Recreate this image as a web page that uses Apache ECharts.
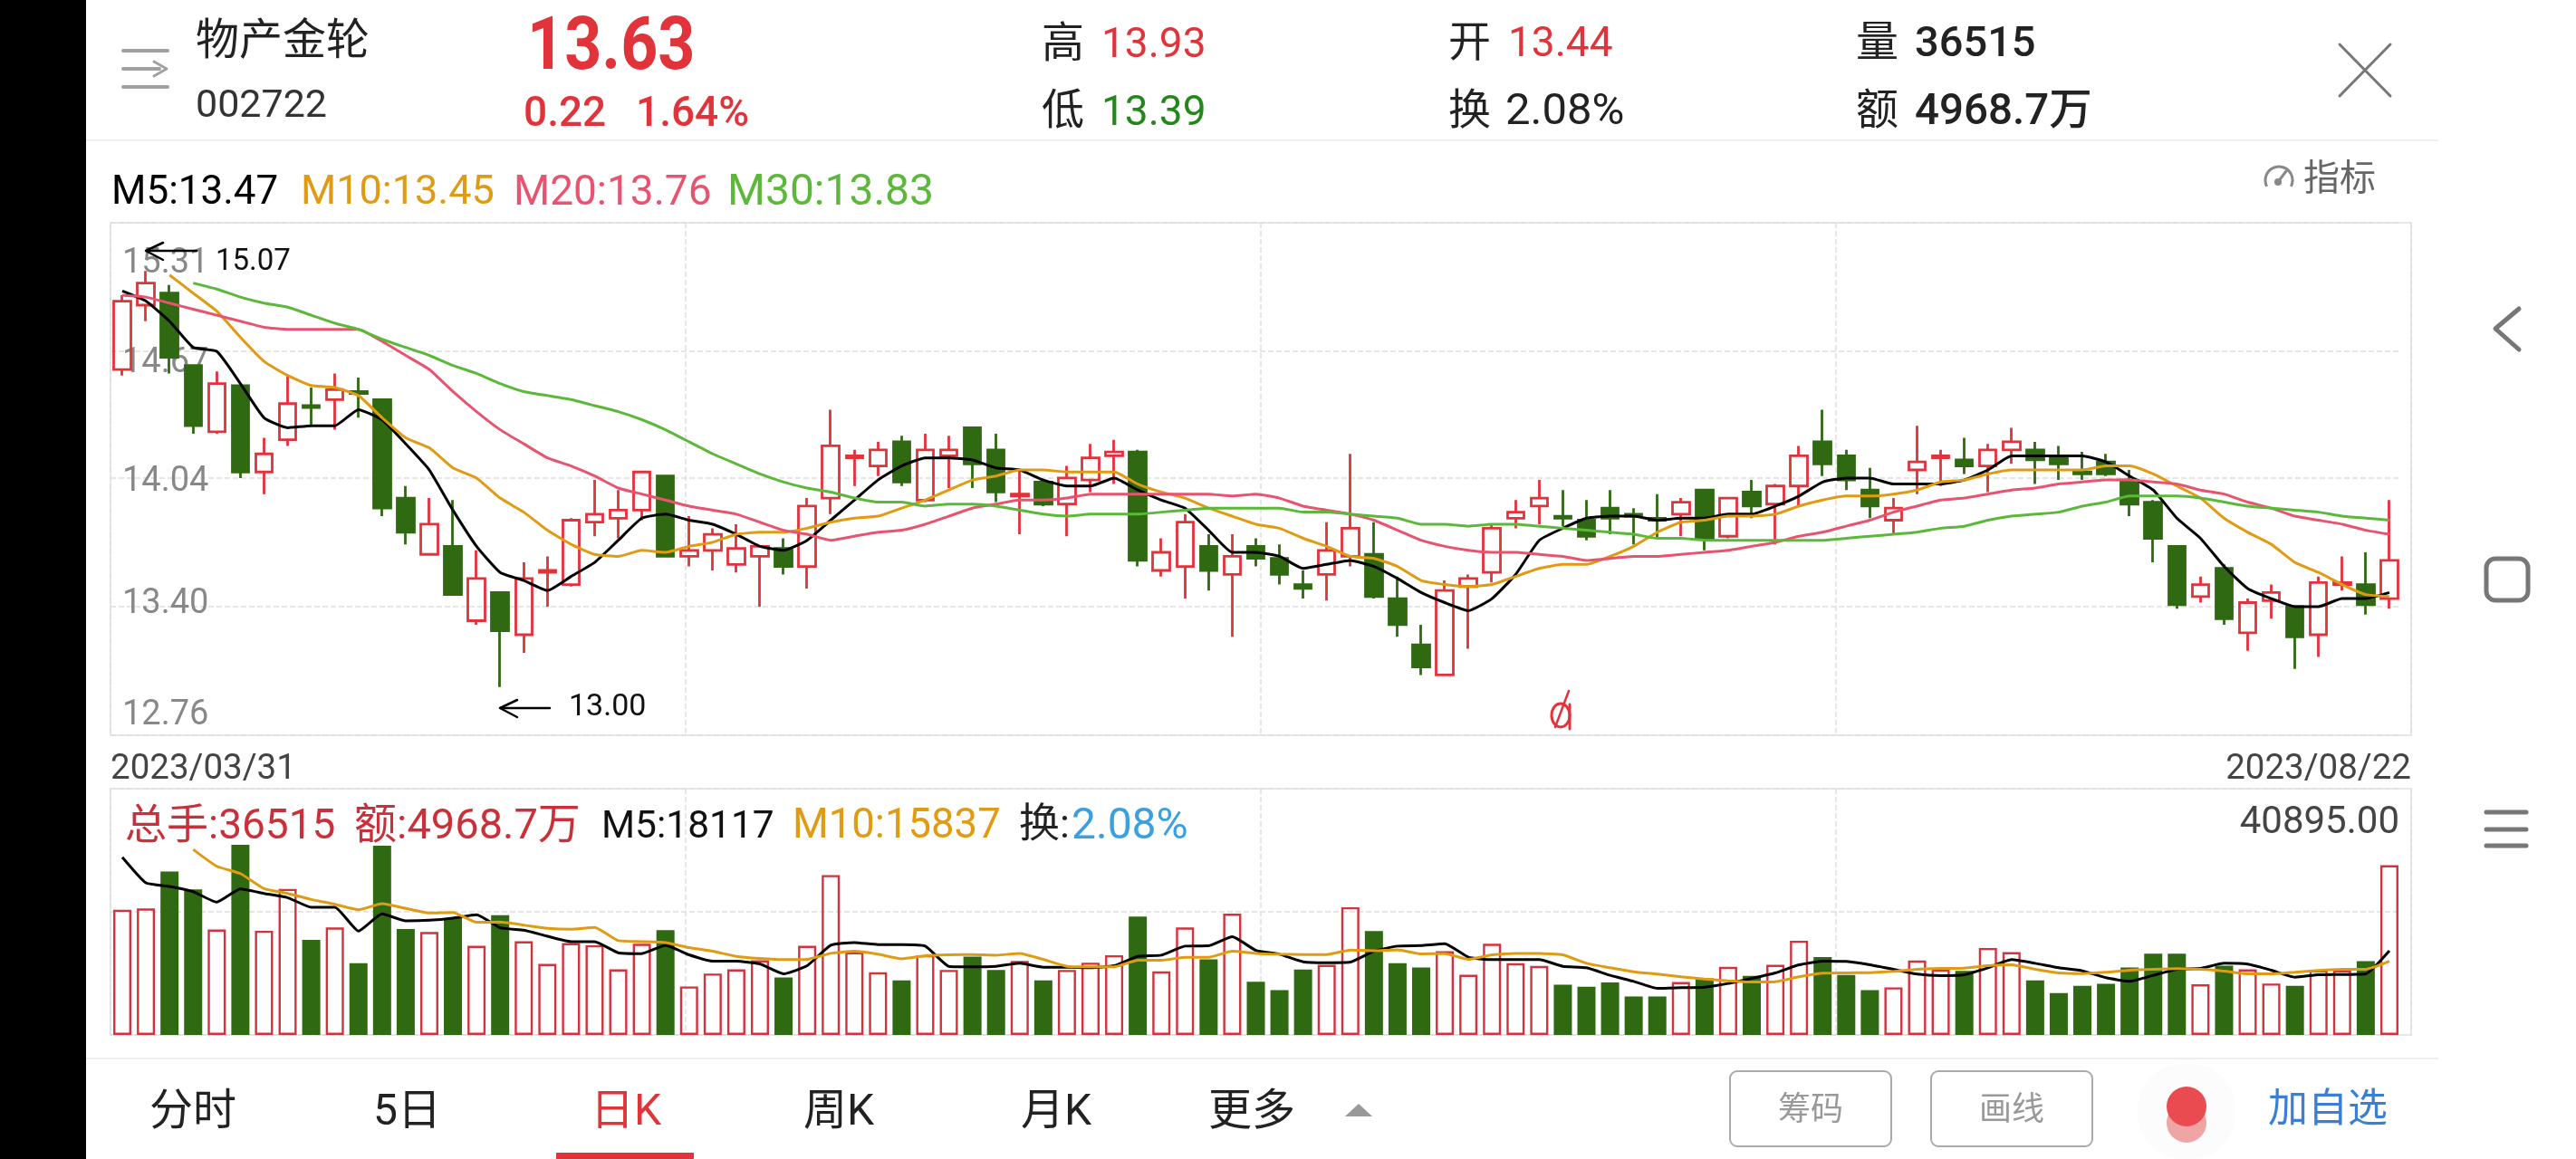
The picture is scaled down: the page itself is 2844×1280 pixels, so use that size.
<!DOCTYPE html>
<html><head><meta charset="utf-8">
<style>html,body{margin:0;padding:0;background:#fff}#c{width:2844px;height:1280px}</style>
<script src="https://cdn.jsdelivr.net/npm/echarts@6/dist/echarts.min.js"></script>
</head><body><div id="c"></div>
<script>
const dates=["2023/03/31","2023/04/03","2023/04/04","2023/04/06","2023/04/07","2023/04/10","2023/04/11","2023/04/12","2023/04/13","2023/04/14","2023/04/17","2023/04/18","2023/04/19","2023/04/20","2023/04/21","2023/04/24","2023/04/25","2023/04/26","2023/04/27","2023/04/28","2023/05/04","2023/05/05","2023/05/08","2023/05/09","2023/05/10","2023/05/11","2023/05/12","2023/05/15","2023/05/16","2023/05/17","2023/05/18","2023/05/19","2023/05/22","2023/05/23","2023/05/24","2023/05/25","2023/05/26","2023/05/29","2023/05/30","2023/05/31","2023/06/01","2023/06/02","2023/06/05","2023/06/06","2023/06/07","2023/06/08","2023/06/09","2023/06/12","2023/06/13","2023/06/14","2023/06/15","2023/06/16","2023/06/19","2023/06/20","2023/06/21","2023/06/26","2023/06/27","2023/06/28","2023/06/29","2023/06/30","2023/07/03","2023/07/04","2023/07/05","2023/07/06","2023/07/07","2023/07/10","2023/07/11","2023/07/12","2023/07/13","2023/07/14","2023/07/17","2023/07/18","2023/07/19","2023/07/20","2023/07/21","2023/07/24","2023/07/25","2023/07/26","2023/07/27","2023/07/28","2023/07/31","2023/08/01","2023/08/02","2023/08/03","2023/08/04","2023/08/07","2023/08/08","2023/08/09","2023/08/10","2023/08/11","2023/08/14","2023/08/15","2023/08/16","2023/08/17","2023/08/18","2023/08/21","2023/08/22"];
const opens=[14.58,14.90,14.96,14.60,14.27,14.50,14.07,14.23,14.40,14.43,14.47,14.43,13.94,13.66,13.70,13.33,13.47,13.26,13.57,13.51,13.82,13.84,13.88,14.05,13.65,13.68,13.61,13.65,13.69,13.60,13.94,14.14,14.10,14.22,13.93,14.15,14.29,14.18,13.95,14.02,13.91,14.03,14.15,14.17,13.58,13.60,13.70,13.56,13.70,13.64,13.51,13.56,13.65,13.66,13.44,13.21,13.06,13.50,13.57,13.84,13.90,13.85,13.83,13.89,13.86,13.84,13.86,13.98,13.75,13.97,13.91,14.00,14.22,14.15,13.98,13.83,14.08,14.14,14.13,14.10,14.18,14.18,14.14,14.07,14.12,14.03,13.92,13.70,13.45,13.59,13.27,13.43,13.40,13.26,13.51,13.51,13.44];
const closes=[14.92,15.01,14.64,14.30,14.51,14.07,14.16,14.41,14.39,14.48,14.46,13.89,13.77,13.81,13.46,13.54,13.28,13.54,13.58,13.83,13.86,13.88,14.07,13.65,13.68,13.76,13.69,13.70,13.60,13.90,14.20,14.15,14.18,14.02,14.18,14.18,14.11,13.97,13.96,13.91,14.04,14.14,14.17,13.63,13.67,13.82,13.58,13.65,13.64,13.56,13.49,13.68,13.79,13.45,13.31,13.10,13.48,13.54,13.79,13.87,13.94,13.84,13.75,13.84,13.85,13.83,13.92,13.74,13.94,13.90,14.00,14.15,14.11,14.03,13.90,13.89,14.12,14.15,14.10,14.18,14.22,14.13,14.11,14.06,14.06,13.91,13.74,13.41,13.51,13.34,13.42,13.47,13.25,13.52,13.52,13.41,13.63];
const lows=[14.55,14.82,14.56,14.26,14.26,14.04,13.96,14.20,14.30,14.28,14.34,13.85,13.71,13.66,13.46,13.31,13.00,13.17,13.40,13.50,13.75,13.74,13.83,13.65,13.60,13.58,13.57,13.40,13.56,13.49,13.86,14.00,14.05,14.00,13.92,13.99,13.99,13.92,13.76,13.90,13.75,13.97,14.01,13.60,13.55,13.44,13.48,13.25,13.60,13.51,13.44,13.43,13.60,13.44,13.25,13.06,13.06,13.19,13.52,13.79,13.81,13.80,13.73,13.76,13.71,13.74,13.75,13.68,13.74,13.84,13.71,13.90,14.05,13.98,13.84,13.76,13.96,14.00,14.06,13.97,14.11,14.01,14.03,14.03,14.05,13.85,13.62,13.39,13.42,13.31,13.18,13.34,13.09,13.15,13.48,13.36,13.39];
const highs=[14.95,15.07,15.00,14.60,14.57,14.50,14.24,14.55,14.49,14.56,14.54,14.43,14.00,13.94,13.93,13.68,13.47,13.62,13.65,13.84,14.03,13.98,14.07,14.05,13.85,13.79,13.81,13.70,13.74,13.94,14.38,14.18,14.22,14.25,14.26,14.25,14.29,14.26,14.08,14.02,14.10,14.21,14.23,14.18,13.74,13.86,13.76,13.76,13.74,13.71,13.58,13.82,14.16,13.82,13.55,13.31,13.53,13.56,13.81,13.93,14.03,13.98,13.93,13.98,13.89,13.96,13.94,13.98,13.94,14.03,14.01,14.20,14.38,14.18,14.09,13.94,14.30,14.18,14.24,14.21,14.29,14.22,14.20,14.17,14.16,14.08,13.93,13.70,13.55,13.61,13.44,13.51,13.40,13.55,13.65,13.67,13.93];
const ma5=[14.97,14.92,14.82,14.69,14.67,14.51,14.34,14.29,14.30,14.30,14.38,14.33,14.21,14.08,13.88,13.70,13.57,13.53,13.48,13.55,13.62,13.73,13.84,13.86,13.83,13.81,13.76,13.70,13.68,13.73,13.83,13.93,14.03,14.10,14.14,14.14,14.13,14.09,14.08,14.03,14.00,14.00,14.04,13.98,13.93,13.89,13.78,13.67,13.67,13.65,13.59,13.61,13.63,13.60,13.54,13.47,13.42,13.38,13.44,13.56,13.73,13.79,13.84,13.85,13.85,13.83,13.84,13.84,13.86,13.86,13.90,13.95,14.02,14.04,14.04,14.01,14.01,14.01,14.03,14.08,14.15,14.15,14.15,14.15,14.12,14.05,13.98,13.84,13.74,13.60,13.49,13.44,13.40,13.40,13.44,13.44,13.47];
const ma10=[null,null,15.05,14.96,14.87,14.74,14.62,14.55,14.50,14.49,14.45,14.34,14.24,14.19,14.09,14.04,13.94,13.87,13.78,13.71,13.66,13.65,13.68,13.67,13.70,13.72,13.76,13.77,13.77,13.79,13.82,13.84,13.85,13.89,13.93,13.98,14.03,14.05,14.08,14.08,14.07,14.07,14.07,14.01,13.97,13.94,13.89,13.85,13.81,13.79,13.74,13.70,13.65,13.64,13.60,13.53,13.51,13.50,13.51,13.55,13.59,13.61,13.61,13.65,13.70,13.77,13.82,13.83,13.85,13.85,13.86,13.90,13.93,13.95,13.95,13.96,13.98,14.02,14.03,14.06,14.08,14.08,14.08,14.08,14.10,14.10,14.06,14.00,13.94,13.84,13.77,13.71,13.62,13.57,13.51,13.46,13.45];
const ma20=[14.95,14.94,14.91,14.88,14.85,14.82,14.79,14.78,14.78,14.78,14.78,14.72,14.65,14.58,14.47,14.37,14.28,14.21,14.14,14.10,14.05,13.99,13.96,13.93,13.90,13.88,13.86,13.82,13.78,13.76,13.73,13.75,13.77,13.78,13.81,13.85,13.89,13.91,13.93,13.93,13.94,13.96,13.96,13.96,13.96,13.96,13.96,13.95,13.96,13.94,13.90,13.88,13.86,13.83,13.78,13.73,13.70,13.68,13.67,13.67,13.66,13.65,13.63,13.64,13.65,13.65,13.66,13.67,13.68,13.70,13.72,13.75,13.77,13.80,13.83,13.87,13.90,13.93,13.94,13.96,13.98,13.99,14.01,14.02,14.03,14.03,14.02,14.01,13.98,13.96,13.92,13.89,13.85,13.83,13.81,13.78,13.76];
const ma30=[null,null,null,15.01,14.98,14.94,14.91,14.89,14.85,14.81,14.78,14.73,14.69,14.65,14.60,14.56,14.51,14.47,14.45,14.43,14.40,14.37,14.33,14.28,14.22,14.16,14.11,14.06,14.02,13.99,13.97,13.94,13.92,13.92,13.90,13.91,13.91,13.90,13.88,13.86,13.85,13.86,13.86,13.86,13.87,13.88,13.89,13.89,13.89,13.89,13.87,13.87,13.86,13.85,13.84,13.81,13.81,13.80,13.81,13.81,13.80,13.79,13.78,13.77,13.76,13.74,13.74,13.73,13.73,13.73,13.73,13.73,13.73,13.74,13.75,13.76,13.77,13.79,13.80,13.83,13.85,13.86,13.87,13.90,13.92,13.95,13.95,13.95,13.94,13.92,13.90,13.89,13.88,13.87,13.85,13.84,13.83];
const volumes=[26960,27220,35190,31300,22680,40895,22420,31430,20480,23130,15420,40700,22810,22160,25140,19180,25790,20150,15290,19760,19310,14130,19630,22550,10430,13220,14130,16070,12380,19180,34410,17820,13480,11730,17170,14000,16850,14000,15940,11730,14000,15550,17170,25470,13670,23130,16260,26110,11470,9660,14060,15100,27480,22360,15420,14520,18010,12960,19630,15420,14840,10820,10370,11280,8290,8290,11400,12180,14640,12700,15100,20280,16780,12900,9660,10240,16010,14130,13800,18730,17820,11730,9010,10560,11020,14520,17500,17500,10890,14900,14130,11080,10560,13930,13930,15880,36515];
const volM5=[38230,32720,31950,30840,28580,31430,30460,29550,27480,27480,22360,26050,24560,24690,25140,25860,23070,22550,21250,20090,20090,17690,17500,19310,17240,15880,15880,15290,13150,14900,19310,19890,19440,19440,19120,14770,14640,14770,15420,14580,14580,14450,14900,16910,17170,19120,19180,21120,18210,17370,15750,15550,15680,18010,19120,19250,19630,16720,16200,16200,16200,14770,14450,12830,11530,10040,10170,10300,11080,12180,13350,15100,15880,15810,15100,14130,13090,12770,12960,14450,16200,15420,14450,13800,12310,11530,12830,14130,14320,15420,15230,13930,12440,12960,13020,13150,18117];
const volM10=[null,null,null,39920,36290,34730,31490,30460,29160,28120,26960,28250,27220,26240,26370,24240,24300,23650,22940,22740,23130,20280,20090,19890,18790,18010,16910,16460,16200,16260,17560,18010,17370,16390,17040,17240,17300,17170,17560,16260,14770,14640,14640,16070,16070,16720,16720,18010,17560,17370,17300,17300,18270,18140,18340,17430,17500,16260,17240,17560,17560,17240,15420,14450,13610,13090,12510,12050,11660,11400,11470,12510,13280,13350,13410,13670,14130,14320,14390,14900,15100,14130,13350,13220,13480,13930,14130,14260,14130,13740,13150,13150,13480,13870,14130,14130,15837];
const priceTicks=[12.76,13.40,14.04,14.67,15.31];
const priceTickNudge={"15.31":[90,0,0,0],"14.67":[26,0,0,0],"14.04":[10,0,0,0],"13.40":[0,0,4,0],"12.76":[0,0,44,0]};

const RED='#e0333a',GRN='#2f6912',BLK='#000',ORG='#e09b12',PNK='#e8546f',LGN='#5cb83a';
const CJK='Roboto,"Noto Sans CJK SC",sans-serif';
const DY=5;
function T(text,x,y,size,fill,o){o=o||{};return {type:'text',z:50,style:{text,x,y:y+DY,fill,fontSize:size,fontFamily:CJK,fontWeight:o.w||400,align:o.a||'left',verticalAlign:'middle'}};}
function L(pts,stroke,lw){return {type:'polyline',z:50,shape:{points:pts},style:{stroke,lineWidth:lw,fill:'none',lineCap:'round',lineJoin:'round'}};}
function Big(text,x,y,size,fill,sx){return {type:'text',z:50,x,y,scaleX:sx,style:{text,x:0,y:0,fill,fontSize:size,fontFamily:CJK,fontWeight:700,align:'left',verticalAlign:'middle'}};}
function Rect(x,y,w,h,fill,o){o=o||{};return {type:'rect',z:o.z||40,shape:{x,y,width:w,height:h,r:o.r||0},style:{fill:fill,stroke:o.stroke||null,lineWidth:o.lw||0}};}

const graphics=[
 Rect(0,0,95,1280,'#000'),
 Rect(95,154,2597,2,'#eeeeee'),Rect(95,1168,2597,2,'#eeeeee'),
 L([[136,56],[185,56]],'#a0a0a0',4),L([[136,76],[176,76]],'#a0a0a0',4),L([[170,68],[184,76],[170,84]],'#a0a0a0',3),L([[136,96],[185,96]],'#a0a0a0',4),
 T('物产金轮',216,43,48,'#222'),
 T('002722',216,113,43,'#333'),
 Big('13.63',582,55,82,RED,0.875),
 T('0.22',578,122,46,RED,{w:500}),T('1.64%',702,122,46,RED,{w:500}),
 T('高',1150,46,47,'#222'),T('13.93',1216,46,46,RED),
 T('低',1150,120,47,'#222'),T('13.39',1216,121,46,'#22881a'),
 T('开',1599,45,47,'#222'),T('13.44',1665,45,46,RED),
 T('换',1599,120,47,'#222'),T('2.08%',1662,120,49,'#222'),
 T('量',2049,45,47,'#222'),T('36515',2114,45,47,'#222',{w:500}),
 T('额',2049,120,47,'#222'),T('4968.7万',2114,120,47.5,'#222',{w:500}),
 L([[2583,49],[2639,106]],'#777',3),L([[2639,49],[2583,106]],'#777',3),
 T('M5:13.47',123,209,44,'#000'),T('M10:13.45',332,209,45,ORG),T('M20:13.76',567,209,46,PNK),T('M30:13.83',803,209,48,LGN),
 {type:'arc',z:50,shape:{cx:2516,cy:199,r:15,startAngle:Math.PI*0.85,endAngle:Math.PI*0.15},style:{stroke:'#888',lineWidth:3,fill:'none'}},
 {type:'circle',z:50,shape:{cx:2515,cy:201,r:4},style:{fill:'#888'}},L([[2515,201],[2524,189]],'#888',3),
 T('指标',2543,195,40,'#666'),
 L([[217,277],[162,277]],'#000',2.5),L([[180,268],[161,277],[180,287]],'#000',2.5),T('15.07',238,285,33,'#111'),
 L([[607,782],[553,782]],'#000',2.5),L([[571,773],[552,782],[571,792]],'#000',2.5),T('13.00',628,776,34,'#111'),
 {type:'ellipse',z:50,shape:{cx:1723,cy:790,rx:10,ry:13},style:{stroke:RED,lineWidth:3,fill:'none'}},
 L([[1733,778],[1733,805]],RED,3),L([[1732,763],[1717,803]],RED,2.5),
 T('总手:36515',138,909,46,'#c9303a'),T('额:4968.7万',391,909,47,'#c9303a'),
 T('M5:18117',664,909,42.5,'#111'),T('M10:15837',875,909,45.5,ORG),
 T('换:',1125,909,45,'#222'),T('2.08%',1183,909,48,'#3ba0e0'),
 T('40895.00',2649,904,42,'#444',{a:'right'}),
 T('分时',165,1225,48,'#222'),T('5日',412,1225,48,'#222'),T('日K',652,1225,48,RED),T('周K',887,1225,48,'#222'),T('月K',1127,1225,48,'#222'),T('更多',1334,1225,48,'#222'),
 Rect(614,1273,152,7,RED),
 {type:'polygon',z:50,shape:{points:[[1485,1233],[1515,1233],[1500,1219]]},style:{fill:'#999'}},
 Rect(1910,1183,178,83,'#fff',{stroke:'#aaa',lw:2,r:8}),T('筹码',1999,1223,36,'#999',{a:'center'}),
 Rect(2132,1183,178,83,'#fff',{stroke:'#aaa',lw:2,r:8}),T('画线',2221,1223,36,'#999',{a:'center'}),
 Rect(2360,1175,108,105,'#fcfcfc',{r:50}),
 {type:'circle',z:50,shape:{cx:2414,cy:1240,r:22},style:{fill:'#f0a5a5'}},
 {type:'circle',z:51,shape:{cx:2414,cy:1222,r:22},style:{fill:'#ea4b50'}},
 T('加自选',2504,1223,44,'#3a7fd5'),
 L([[2781,341],[2755,363],[2781,386]],'#777',5),
 Rect(2745,617,46,46,'none',{stroke:'#777',lw:5,r:10,z:50}),
 L([[2745,897],[2789,897]],'#777',5),L([[2745,916],[2789,916]],'#777',5),L([[2745,934],[2789,934]],'#777',5)
];

const frameLine={show:true,lineStyle:{color:'#dedede',type:'dashed',width:1.5}};
const lineS=(name,data,color,x)=>({name,type:'line',data,xAxisIndex:x,yAxisIndex:x,symbol:'none',smooth:0.15,connectNulls:false,z:5,lineStyle:{color,width:3},itemStyle:{color},animation:false});

const option={
 backgroundColor:'#fff',animation:false,
 grid:[
  {left:122,top:246,width:2529,height:566},
  {left:122,top:871,width:2529,height:272},
  {left:122,top:246,width:2540,height:566,show:true,borderColor:'#e8e8e8',borderWidth:2,backgroundColor:'transparent'},
  {left:122,top:871,width:2540,height:272,show:true,borderColor:'#e8e8e8',borderWidth:2,backgroundColor:'transparent'}
 ],
 xAxis:[
  {type:'category',gridIndex:0,data:dates,axisLine:{show:false},axisTick:{show:false},axisLabel:{show:false},splitLine:{show:false}},
  {type:'category',gridIndex:1,data:dates,axisLine:{show:false},axisTick:{show:false},axisLabel:{show:false},splitLine:{show:false}},
  {type:'value',gridIndex:2,min:0,max:4,interval:1,axisLine:{show:false},axisTick:{show:false},splitLine:frameLine,
   axisLabel:{show:true,customValues:[0,4],margin:19,fontSize:38.5,fontFamily:CJK,color:'#444',alignMinLabel:'left',alignMaxLabel:'right',formatter:v=>v===0?dates[0]:dates[dates.length-1]}},
  {type:'value',gridIndex:3,min:0,max:4,interval:1,axisLine:{show:false},axisTick:{show:false},axisLabel:{show:false},splitLine:frameLine}
 ],
 yAxis:[
  {type:'value',gridIndex:0,min:12.76,max:15.31,axisLine:{show:false},
   axisTick:{show:false,customValues:priceTicks},
   splitLine:{show:true,lineStyle:{color:'#dedede',type:'dashed',width:1.5}},
   axisLabel:{show:true,inside:true,margin:13,customValues:priceTicks,fontSize:38,fontFamily:CJK,color:'#888',
    formatter:v=>'{t'+v.toFixed(2).replace('.','_')+'|'+v.toFixed(2)+'}',
    rich:Object.fromEntries(priceTicks.map(v=>['t'+v.toFixed(2).replace('.','_'),{padding:priceTickNudge[v.toFixed(2)],fontSize:38,fontFamily:CJK,color:'#888'}]))}},
  {type:'value',gridIndex:1,min:0,max:53000,interval:26500,axisLine:{show:false},axisTick:{show:false},axisLabel:{show:false},
   splitLine:{show:true,lineStyle:{color:'#dedede',type:'dashed',width:1.5}}},
  {type:'value',gridIndex:2,min:0,max:1,show:false,splitLine:{show:false}},
  {type:'value',gridIndex:3,min:0,max:1,show:false,splitLine:{show:false}}
 ],
 graphic:{elements:graphics},
 series:[
  {name:'K',type:'candlestick',xAxisIndex:0,yAxisIndex:0,barWidth:19,z:3,
   data:dates.map((d,i)=>[opens[i],closes[i],lows[i],highs[i]]),
   itemStyle:{color:'transparent',color0:GRN,borderColor:RED,borderColor0:GRN,borderWidth:2.8}},
  lineS('M5',ma5,BLK,0),lineS('M10',ma10,ORG,0),lineS('M20',ma20,PNK,0),lineS('M30',ma30,LGN,0),
  {name:'量',type:'bar',xAxisIndex:1,yAxisIndex:1,barWidth:20,z:3,
   data:volumes.map((v,i)=>({value:v,itemStyle:closes[i]>=opens[i]?{color:'transparent',borderColor:'#d0343c',borderWidth:2.4}:{color:GRN}}))},
  lineS('VM5',volM5,BLK,1),lineS('VM10',volM10,ORG,1)
 ]
};
const chart=echarts.init(document.getElementById('c'),null,{renderer:'canvas'});
chart.setOption(option);
</script></body></html>
